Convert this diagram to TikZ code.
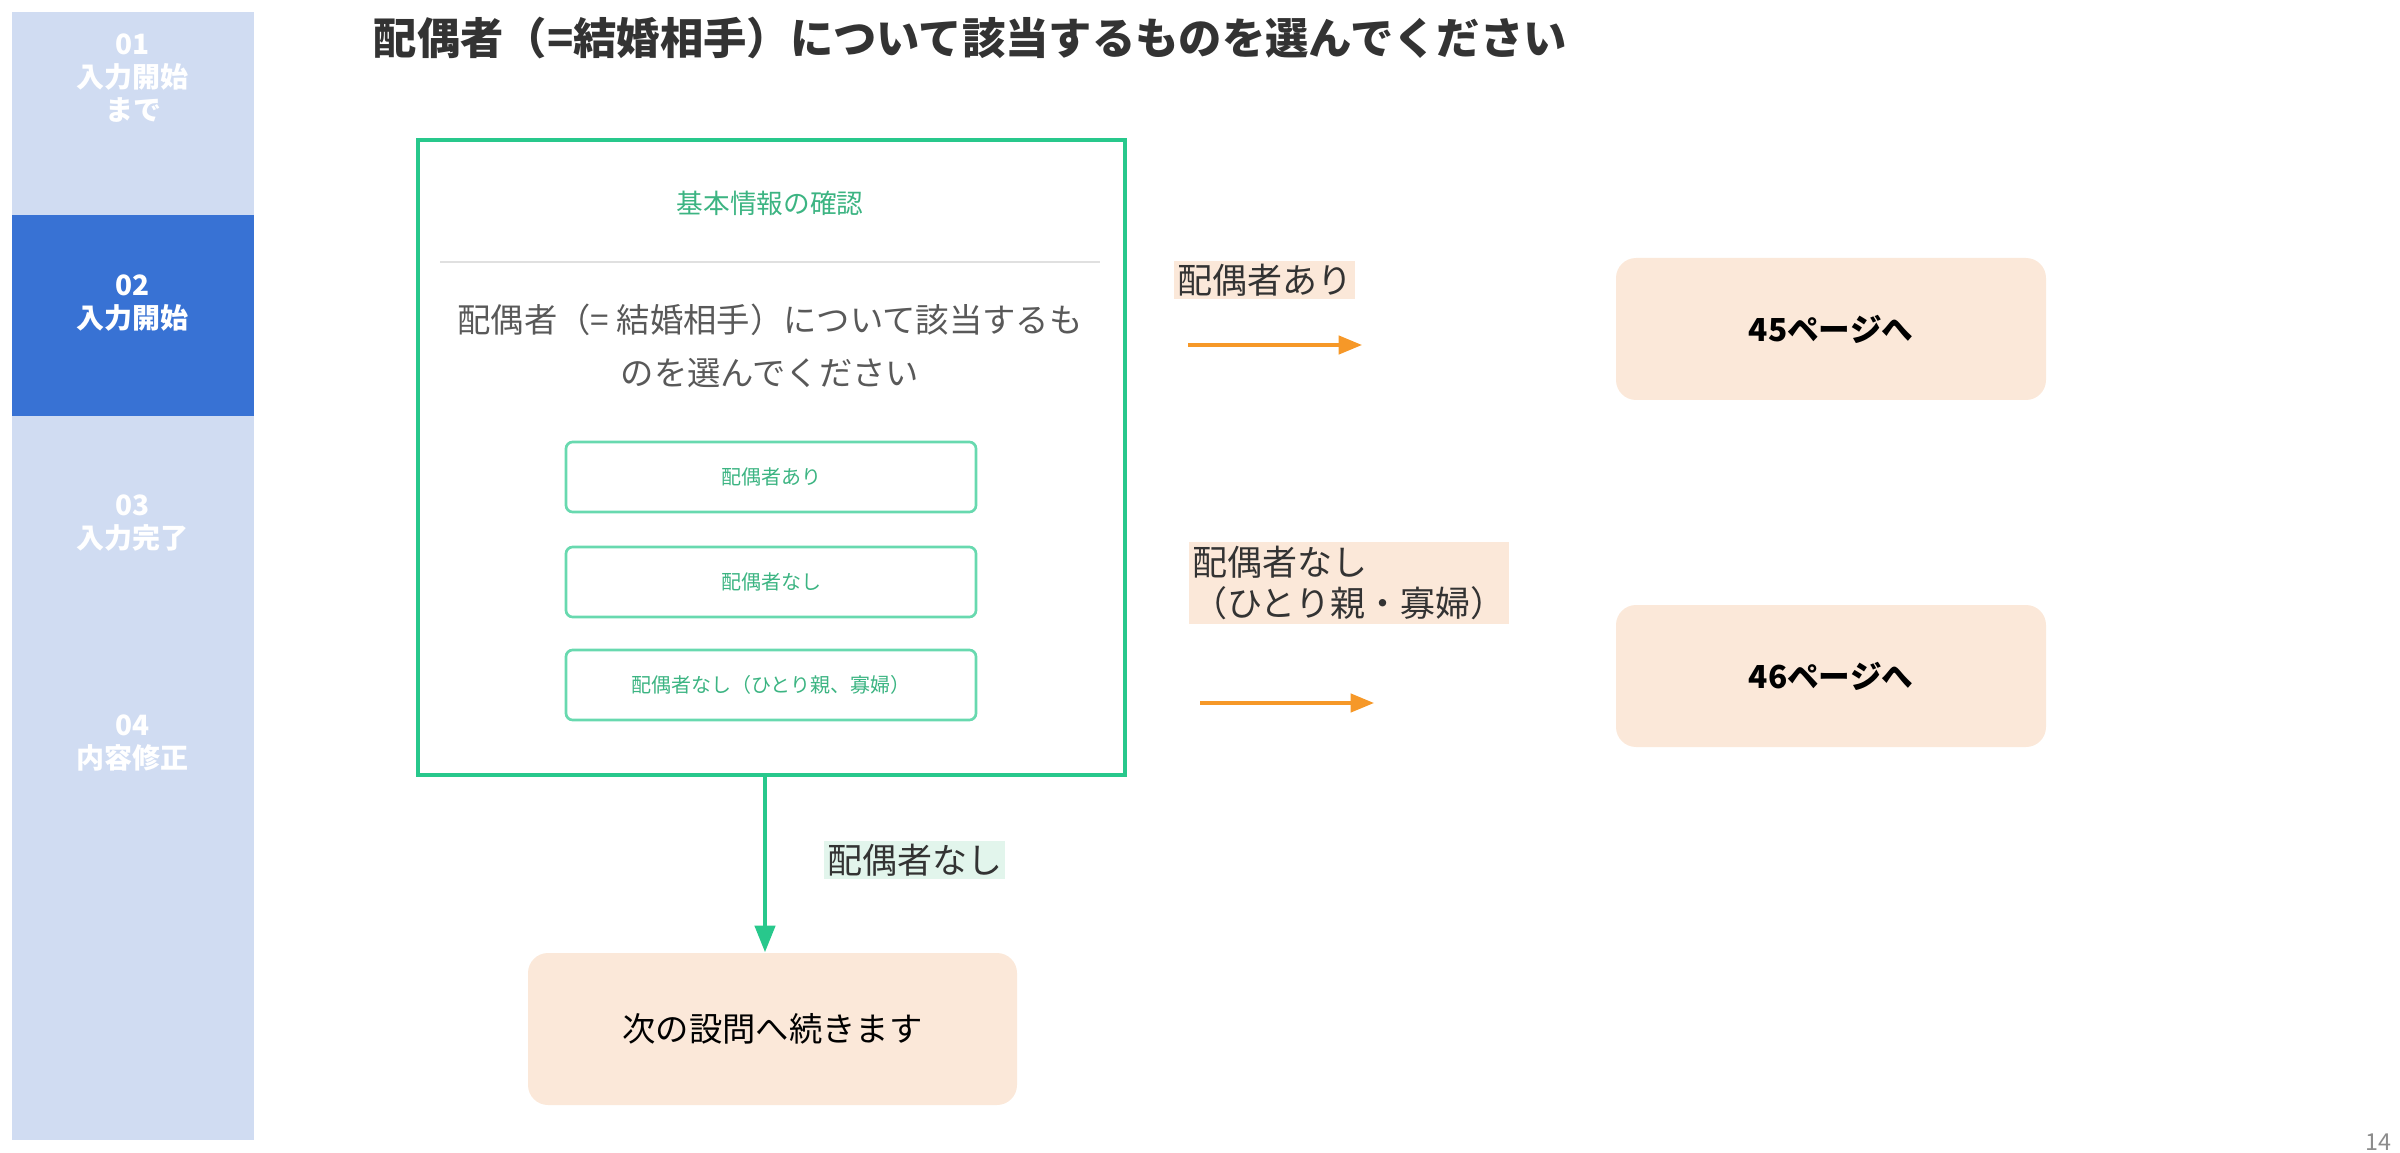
\documentclass[tikz,border=0pt]{standalone}
\usepackage{fontspec}
\setmainfont{Noto Sans CJK JP}
\usetikzlibrary{arrows.meta}
\definecolor{sideL}{RGB}{208,220,242}
\definecolor{sideD}{RGB}{56,114,212}
\definecolor{grn}{RGB}{40,200,140}
\definecolor{grnT}{RGB}{60,180,130}
\definecolor{pch}{RGB}{251,232,217}
\definecolor{lgrn}{RGB}{226,245,236}
\definecolor{org}{RGB}{246,152,40}
\begin{document}
\begin{tikzpicture}[x=0.3pt,y=-0.3pt,
  side/.style={text=white,font=\bfseries\fontsize{8.4}{10}\selectfont,align=center},
  btn/.style={draw=grn!70!white,line width=0.8pt,rounded corners=2pt,minimum width=123pt,minimum height=21pt,text=grnT,font=\fontsize{6}{7}\selectfont},
  peach/.style={fill=pch,rounded corners=6pt,minimum width=129pt,minimum height=42.6pt,font=\fontsize{9}{11}\selectfont},
  lab/.style={fill=pch,inner sep=1pt,font=\fontsize{10.5}{12.5}\selectfont,text=black!80,align=left},
  oarr/.style={draw=org,line width=1pt,-{Triangle[length=7pt,width=5.5pt]}},
  garr/.style={draw=grn,line width=1.3pt,-{Triangle[length=8pt,width=6pt]}}]
\useasboundingbox (0,0) rectangle (2400,1153);
\fill[sideL] (12,12) rectangle (254,1140);
\fill[sideD] (12,215) rectangle (254,416);
\node[side] (s1) at (133,78) {01\\入力開始\\まで};
\node[side] (s2) at (133,303) {02\\入力開始};
\node[side] (s3) at (133,523) {03\\入力完了};
\node[side] (s4) at (133,743) {04\\内容修正};
\node[anchor=west,font=\bfseries\fontsize{13}{15}\selectfont,text=black!80] (t) at (362,38) {配偶者（=結婚相手）について該当するものを選んでください};
\node[draw=grn,line width=1.2pt,minimum width=212pt,minimum height=190.5pt] (scr) at (771.5,457.5) {};
\node[text=grnT,font=\fontsize{8}{10}\selectfont] (h) at (770,203) {基本情報の確認};
\draw[black!12,line width=0.5pt] (440,262) -- (1100,262);
\node[text=black!65,font=\fontsize{10}{16}\selectfont,align=center] (q) at (770,346) {配偶者（= 結婚相手）について該当するも\\のを選んでください};
\node[btn] (b1) at (771,477) {配偶者あり};
\node[btn] (b2) at (771,582) {配偶者なし};
\node[btn] (b3) at (771,685) {配偶者なし（ひとり親、寡婦）};
\node[lab,anchor=west] (l1) at (1173,280) {配偶者あり};
\coordinate (a1s) at (1188,345); \coordinate (a1e) at (1362,345);
\draw[oarr] (a1s) -- (a1e);
\node[lab,anchor=west] (l2) at (1188,583) {配偶者なし\\（ひとり親・寡婦）};
\coordinate (a2s) at (1200,703); \coordinate (a2e) at (1374,703);
\draw[oarr] (a2s) -- (a2e);
\node[peach,font=\bfseries\fontsize{9.5}{11}\selectfont] (p45) at (1831,329) {45ページへ};
\node[peach,font=\bfseries\fontsize{9.5}{11}\selectfont] (p46) at (1831,676) {46ページへ};
\node[peach,minimum width=146.7pt,minimum height=45.6pt,font=\fontsize{10}{12}\selectfont] (nx) at (772.5,1029) {次の設問へ続きます};
\draw[garr] (scr.south -| 765,0) -- (nx.north -| 765,0);
\node[lab,fill=lgrn,anchor=west] (l3) at (823,860) {配偶者なし};
\node[text=black!45,font=\fontsize{7}{8}\selectfont] (pg) at (2378,1142) {14};
\end{tikzpicture}
\end{document}
